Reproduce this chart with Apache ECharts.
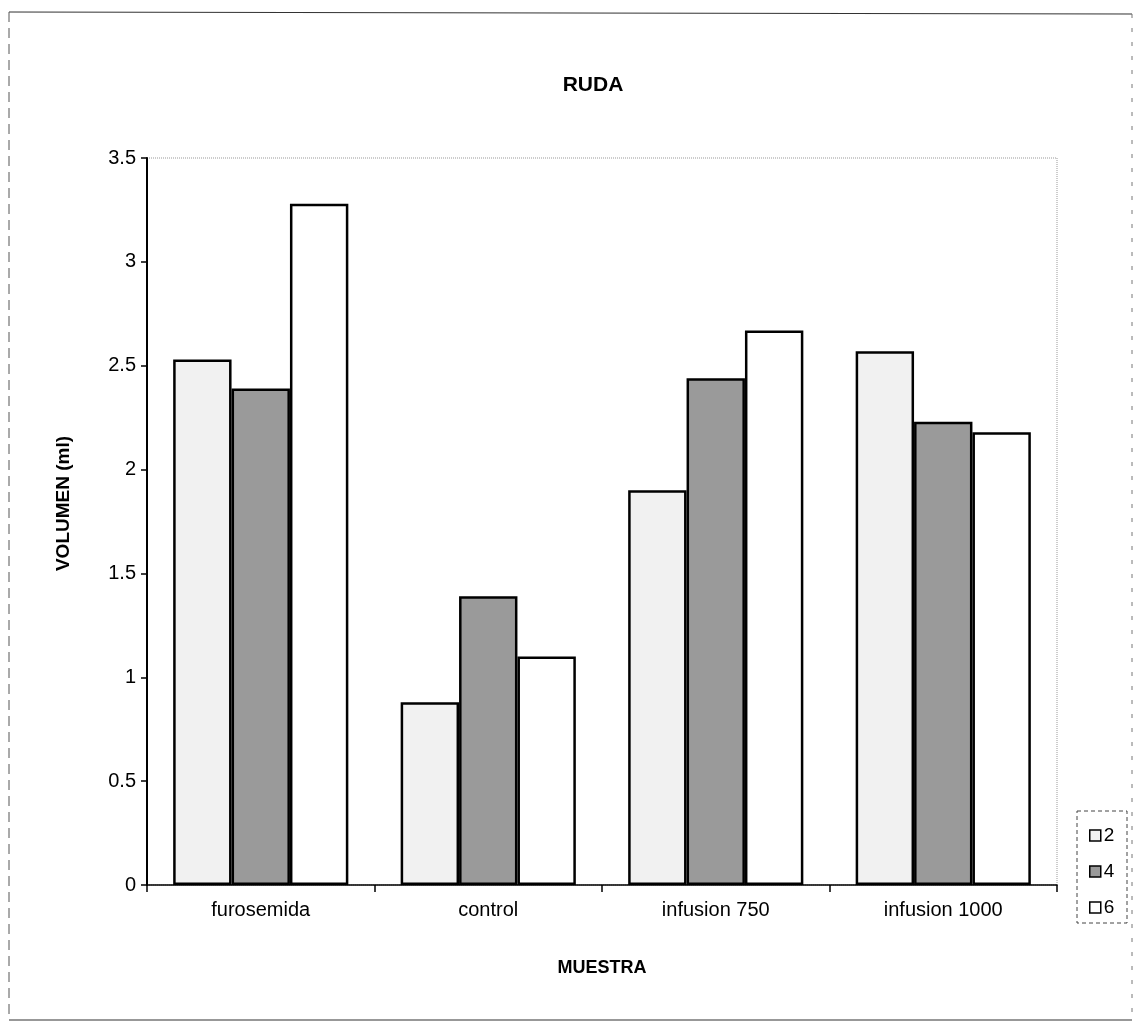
<!DOCTYPE html>
<html>
<head>
<meta charset="utf-8">
<script src="https://cdn.jsdelivr.net/npm/echarts@6/dist/echarts.min.js"></script>
<style>
html,body{margin:0;padding:0;background:#fff;}
#chart{width:1138px;height:1032px;}
</style>
</head>
<body>
<div id="chart"></div>
<script>
const categories = ['furosemida', 'control', 'infusion 750', 'infusion 1000'];
const seriesNames = ['2', '4', '6'];
const values2 = [2.53, 0.88, 1.90, 2.57];
const values4 = [2.39, 1.39, 2.44, 2.23];
const values6 = [3.28, 1.10, 2.67, 2.18];
const yTicks = [0, 0.5, 1, 1.5, 2, 2.5, 3, 3.5];

const font = '"Liberation Sans", Arial, sans-serif';
const fills = ['#f1f1f1', '#9a9a9a', '#ffffff'];
const allValues = [values2, values4, values6];

const chart = echarts.init(document.getElementById('chart'), null, {renderer: 'canvas'});
chart.setOption({
  backgroundColor: '#ffffff',
  animation: false,
  title: {
    text: 'RUDA', left: 588, top: 70, textAlign: 'center',
    textStyle: {fontFamily: font, fontWeight: 'bold', fontSize: 21, color: '#000'}
  },
  legend: {
    orient: 'vertical', left: 1084, top: 821, itemWidth: 11, itemHeight: 11, itemGap: 17,
    icon: 'rect',
    data: seriesNames,
    itemStyle: {borderWidth: 1.5, borderColor: '#000'},
    textStyle: {fontFamily: font, fontSize: 19, color: '#000', padding: [0, 0, 0, -2]}
  },
  grid: {
    left: 147, right: 81, top: 158, bottom: 147, show: true,
    borderColor: '#999', borderWidth: 1, borderType: 'dotted'
  },
  xAxis: {
    type: 'category', data: categories,
    axisLine: {lineStyle: {color: '#000', width: 1.5}},
    axisTick: {show: true, length: 7, lineStyle: {color: '#000', width: 1.5}},
    axisLabel: {fontFamily: font, fontSize: 20, color: '#000', margin: 15},
    name: 'MUESTRA', nameLocation: 'middle', nameGap: 74,
    nameTextStyle: {fontFamily: font, fontWeight: 'bold', fontSize: 18, color: '#000'}
  },
  yAxis: {
    type: 'value', min: yTicks[0], max: yTicks[yTicks.length - 1], interval: 0.5,
    splitLine: {show: false},
    axisLine: {show: true, lineStyle: {color: '#000', width: 2}},
    axisTick: {show: true, length: 6, lineStyle: {color: '#000', width: 1.5}},
    axisLabel: {fontFamily: font, fontSize: 20, color: '#000', margin: 11},
    name: 'VOLUMEN (ml)', nameLocation: 'middle', nameGap: 74,
    nameTextStyle: {fontFamily: font, fontWeight: 'bold', fontSize: 19, color: '#000', padding: [0, 0, 0, 36]}
  },
  series: seriesNames.map((n, i) => ({
    name: n, type: 'bar', data: allValues[i],
    barGap: '0%', barCategoryGap: '23%',
    itemStyle: {color: fills[i], borderColor: '#000', borderWidth: 2.5}
  })),
  graphic: [
    {type: 'rect', shape: {x: 1077, y: 811, width: 50, height: 112},
     style: {fill: 'none', stroke: '#444', lineWidth: 1, lineDash: [4, 3]}, z: 10},
    {type: 'line', shape: {x1: 9, y1: 12, x2: 1132, y2: 14}, style: {stroke: '#333', lineWidth: 1.2}},
    {type: 'line', shape: {x1: 9, y1: 1020, x2: 1132, y2: 1020}, style: {stroke: '#333', lineWidth: 1.2}},
    {type: 'line', shape: {x1: 9, y1: 12, x2: 9, y2: 1020}, style: {stroke: '#555', lineWidth: 1, lineDash: [10, 6]}},
    {type: 'line', shape: {x1: 1132, y1: 14, x2: 1132, y2: 1020}, style: {stroke: '#777', lineWidth: 1, lineDash: [4, 10]}}
  ]
});
</script>
</body>
</html>
